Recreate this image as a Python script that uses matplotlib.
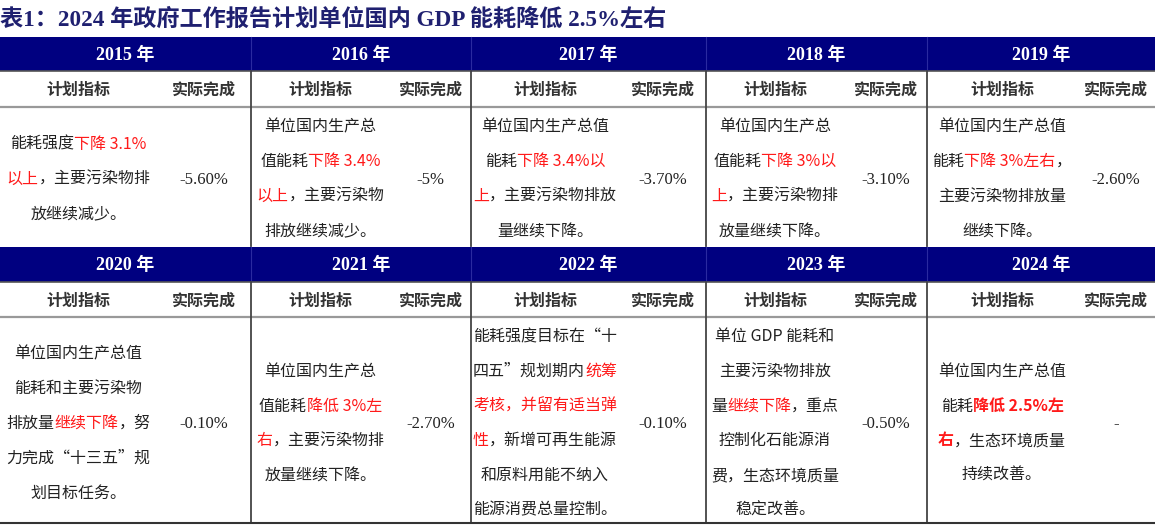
import matplotlib
matplotlib.use("Agg")
import matplotlib.pyplot as plt

# Table data (red parts of the plan text are wrapped in *...*)
title = "表1：2024 年政府工作报告计划单位国内 GDP 能耗降低 2.5%左右"
years = ["2015", "2016", "2017", "2018", "2019",
         "2020", "2021", "2022", "2023", "2024"]
col_head = ["计划指标", "实际完成"]

plan_text = [
    ["能耗强度*下降 3.1%*", "*以上*，主要污染物排", "放继续减少。"],
    ["单位国内生产总", "值能耗*下降 3.4%*", "*以上*，主要污染物", "排放继续减少。"],
    ["单位国内生产总值", "能耗*下降 3.4%以*", "*上*，主要污染物排放", "量继续下降。"],
    ["单位国内生产总", "值能耗*下降 3%以*", "*上*，主要污染物排", "放量继续下降。"],
    ["单位国内生产总值", "能耗*下降 3%左右*，", "主要污染物排放量", "继续下降。"],
    ["单位国内生产总值", "能耗和主要污染物", "排放量*继续下降*，努", "力完成“十三五”规", "划目标任务。"],
    ["单位国内生产总", "值能耗*降低 3%左*", "*右*，主要污染物排", "放量继续下降。"],
    ["能耗强度目标在“十", "四五”规划期内*统筹*", "*考核，并留有适当弹*", "*性*，新增可再生能源",
     "和原料用能不纳入", "能源消费总量控制。"],
    ["单位 GDP 能耗和", "主要污染物排放", "量*继续下降*，重点", "控制化石能源消",
     "费，生态环境质量", "稳定改善。"],
    ["单位国内生产总值", "能耗*降低 2.5%左*", "*右*，生态环境质量", "持续改善。"],
]
actual = ["-5.60%", "-5%", "-3.70%", "-3.10%", "-2.60%",
          "-0.10%", "-2.70%", "-0.10%", "-0.50%", "-"]

# layout (pixel coords)
edges = [0, 251, 471, 706, 927, 1155]
splits = [157, 390, 619, 844, 1077]
rows = [  # band top, band bottom, subhead bottom, body bottom, body center
    (37, 71, 107, 246, 177.5),
    (247, 282, 317, 523, 422),
]
line_gap = 34.7

NAVY = "#000080"
RED = "#ff1a1a"
CJK = ["Noto Sans CJK SC", "DejaVu Sans"]
SERIF = ["Liberation Serif", "Noto Sans CJK SC"]

fig = plt.figure(figsize=(11.55, 5.26), dpi=100)
ax = fig.add_axes([0, 0, 1, 1])
ax.set_xlim(0, 1155)
ax.set_ylim(526, 0)
ax.axis("off")
renderer = fig.canvas.get_renderer()


def draw_line(xc, y, line, bold_red=False):
    parts = line.split("*")
    texts = []
    for i, p in enumerate(parts):
        if not p:
            continue
        red = i % 2 == 1
        t = ax.text(0, y, p, fontsize=11.5, family=CJK, va="baseline", ha="left",
                    color=RED if red else "#222222",
                    fontweight="bold" if (red and bold_red) else "normal")
        texts.append(t)
    widths = [t.get_window_extent(renderer).width for t in texts]
    x = xc - sum(widths) / 2
    for t, w in zip(texts, widths):
        t.set_x(x)
        x += w


ax.text(0, 26, title, fontsize=16.7, fontweight="bold", family=SERIF,
        color="#1f2070", va="baseline", ha="left")

for r, (top, bot, sub, body, yc) in enumerate(rows):
    ax.fill_between([0, 1155], top, bot, color=NAVY, lw=0)
    ax.plot([0, 1155], [bot, bot], color="#555555", lw=1.2)
    ax.plot([0, 1155], [sub, sub], color="#999999", lw=1.6)
    for xe in edges[1:-1]:
        ax.plot([xe, xe], [top, bot], color="#2a2aa0", lw=0.8)
        ax.plot([xe, xe], [bot, body], color="#444444", lw=1.3)
    for k in range(5):
        i = r * 5 + k
        x0, x1, xs = edges[k], edges[k + 1], splits[k]
        ax.text((x0 + x1) / 2, (top + bot) / 2 + 1, years[i] + " 年", color="white",
                fontsize=13, fontweight="bold", family=SERIF, ha="center", va="center")
        ax.text((x0 + xs) / 2, (bot + sub) / 2 + 1, col_head[0], fontsize=11.5,
                fontweight="bold", family=CJK, color="#333333", ha="center", va="center")
        ax.text((xs + x1) / 2, (bot + sub) / 2 + 1, col_head[1], fontsize=11.5,
                fontweight="bold", family=CJK, color="#333333", ha="center", va="center")
        lines = plan_text[i]
        n = len(lines)
        for j, ln in enumerate(lines):
            y = yc + (j - (n - 1) / 2) * line_gap + 6
            draw_line((x0 + xs) / 2, y, ln, bold_red=(years[i] == "2024"))
        ax.text((xs + x1) / 2, yc + 6, actual[i], fontsize=12, family=SERIF,
                color="#222222", ha="center", va="baseline")

ax.plot([0, 1155], [rows[1][3], rows[1][3]], color="#333333", lw=1.5)

fig.savefig("out.png", dpi=100)
